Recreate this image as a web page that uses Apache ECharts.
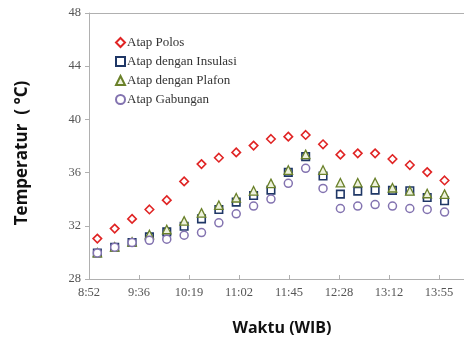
<!DOCTYPE html>
<html><head><meta charset="utf-8">
<script src="https://cdn.jsdelivr.net/npm/echarts@6/dist/echarts.min.js"></script>
<style>html,body{margin:0;padding:0;background:#fff}#c{width:464px;height:345px}</style>
</head><body><div id="c"></div>
<script>
const times = ['9:00','9:15','9:30','9:45','10:00','10:15','10:30','10:45','11:00','11:15','11:30','11:45','12:00','12:15','12:30','12:45','13:00','13:15','13:30','13:45','14:00'];
const atapPolos = [31.04,31.79,32.52,33.23,33.93,35.34,36.64,37.12,37.52,38.03,38.53,38.70,38.83,38.13,37.35,37.45,37.45,37.02,36.57,36.04,35.41];
const atapInsulasi = [29.96,30.39,30.74,31.17,31.54,31.97,32.52,33.23,33.78,34.28,34.68,36.02,37.20,35.74,34.38,34.61,34.68,34.66,34.63,34.13,33.88];
const atapPlafon = [29.98,30.41,30.79,31.34,31.72,32.37,32.97,33.55,34.11,34.63,35.19,36.19,37.37,36.19,35.24,35.24,35.26,34.86,34.63,34.43,34.38];
const atapGabungan = [29.96,30.39,30.74,30.91,30.99,31.29,31.49,32.22,32.90,33.48,34.01,35.19,36.32,34.81,33.30,33.48,33.60,33.48,33.30,33.23,33.03];
const seriesNames = ['Atap Polos','Atap dengan Insulasi','Atap dengan Plafon','Atap Gabungan'];
const xTickLabels = ['8:52','9:36','10:19','11:02','11:45','12:28','13:12','13:55'];

function toMin(t){const p=t.split(':');return (+p[0])*60+(+p[1]);}
// x axis in minutes since midnight; ticks every 0.03 day (43.2 min) from 0.37 day
const xMin = 532.8, xStep = 43.2, xMax = 856.8;
const xTickExact = xTickLabels.map((_,i)=> xMin + i*xStep);
function pairs(vals){return times.map((t,i)=>[toMin(t),vals[i]]);}

const chart = echarts.init(document.getElementById('c'),null,{renderer:'canvas'});
const serif = 'Liberation Serif';
const axisGray = '#b0b0b0';
const mk = (name, data, symbol, size, stroke, fill, bw) => ({
  name, type:'scatter', data:pairs(data), symbol, symbolSize:size,
  itemStyle:{color:fill, borderColor:stroke, borderWidth:bw, opacity:1},
  emphasis:{disabled:true}
});
chart.setOption({
  animation:false,
  grid:{left:89, top:13, bottom:66, right:0, show:false},
  legend:{
    orient:'vertical', left:110, top:31, itemWidth:9, itemHeight:9, itemGap:6,
    textStyle:{fontFamily:serif, fontSize:13, color:'#333', padding:[0,0,0,-3]},
    data:seriesNames
  },
  xAxis:[{
    type:'value', min:xMin, max:xMax,
    axisLine:{show:true, lineStyle:{color:axisGray}},
    axisTick:{show:true, inside:true, length:4, customValues:xTickExact, lineStyle:{color:axisGray}},
    splitLine:{show:false},
    axisLabel:{customValues:xTickExact, fontFamily:serif, fontSize:12.5, color:'#555', margin:7,
      formatter:(v)=>{const i=xTickExact.findIndex(x=>Math.abs(x-v)<0.01);return i>=0?xTickLabels[i]:'';}},
    name:'Waktu (WIB)', nameLocation:'middle', nameGap:41,
    nameTextStyle:{fontFamily:'Open Sans', fontWeight:'bold', fontSize:16, color:'#111', padding:[0,0,0,11]}
  },{
    type:'value', position:'top', min:xMin, max:xMax,
    axisLine:{show:true, onZero:false, lineStyle:{color:axisGray}},
    axisTick:{show:false}, axisLabel:{show:false}, splitLine:{show:false}
  }],
  yAxis:{
    type:'value', min:28, max:48, interval:4,
    axisLine:{show:true, lineStyle:{color:axisGray}},
    axisTick:{show:true, length:4, lineStyle:{color:axisGray}},
    splitLine:{show:false},
    axisLabel:{fontFamily:serif, fontSize:12.5, color:'#555', margin:8},
    name:'Temperatur  ( °C)', nameLocation:'middle', nameGap:58,
    nameTextStyle:{fontFamily:'Open Sans', fontWeight:'bold', fontSize:17, color:'#111', padding:[0,14,0,0]}
  },
  series:[
    mk(seriesNames[0], atapPolos, 'diamond', 8.5, '#e02424', '#fff', 1.6),
    mk(seriesNames[1], atapInsulasi, 'rect', 7.5, '#1f3766', '#fff', 1.6),
    mk(seriesNames[2], atapPlafon, 'triangle', 8.5, '#6a812a', '#eef2dd', 1.3),
    mk(seriesNames[3], atapGabungan, 'circle', 8, '#8373b0', '#fff', 1.5)
  ]
});
</script></body></html>
